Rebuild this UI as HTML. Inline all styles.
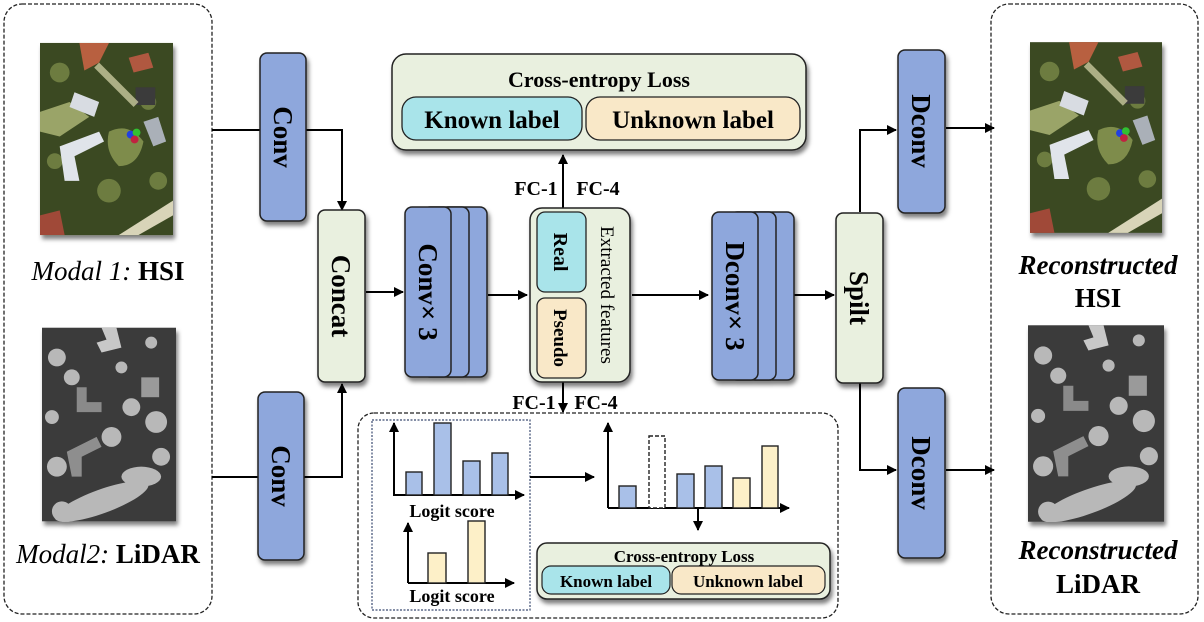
<!DOCTYPE html>
<html><head><meta charset="utf-8"><style>
html,body{margin:0;padding:0;background:#fff;}
svg{display:block;font-family:"Liberation Serif",serif;font-weight:bold;}
</style></head><body>
<svg width="1204" height="622" viewBox="0 0 1204 622" xmlns="http://www.w3.org/2000/svg">
<defs>
<marker id="ah" markerWidth="10" markerHeight="10" refX="9" refY="5" orient="auto" markerUnits="userSpaceOnUse">
<path d="M0,0 L10,5 L0,10 z" fill="#000"/></marker>
<filter id="sh" x="-20%" y="-20%" width="140%" height="140%"><feDropShadow dx="2" dy="4" stdDeviation="2" flood-color="#000" flood-opacity="0.5"/></filter>
<symbol id="hsi" viewBox="0 0 135 195">
<rect width="135" height="195" fill="#3a4a22"/>
<g fill="#7a8848" opacity="0.8"><circle cx="20" cy="30" r="10"/><circle cx="110" cy="60" r="8"/><circle cx="70" cy="150" r="12"/><circle cx="15" cy="120" r="8"/><circle cx="120" cy="140" r="9"/><circle cx="55" cy="10" r="6"/></g>
<path d="M40 0 L70 0 L60 20 L45 28 Z" fill="#b8603f"/>
<path d="M90 15 L110 10 L115 25 L95 30Z" fill="#b05840"/>
<path d="M0 70 L30 60 L50 75 L20 95 L0 90Z" fill="#9aa468"/>
<path d="M35 50 L60 60 L55 75 L30 65Z" fill="#d8dce2"/>
<path d="M20 105 L60 90 L65 100 L35 115 L40 140 L25 140Z" fill="#e0e4ea"/>
<rect x="97" y="45" width="20" height="18" fill="#3a3a3a"/>
<path d="M105 80 L120 75 L128 100 L115 105Z" fill="#aab0b8"/>
<path d="M70 90 Q90 80 105 100 Q100 125 80 125 Q65 110 70 90Z" fill="#7e8c4c"/>
<circle cx="92" cy="93" r="4" fill="#2040e0"/><circle cx="98" cy="91" r="4" fill="#30c030"/><circle cx="96" cy="98" r="4" fill="#c02040"/>
<path d="M80 195 L135 160 L135 175 L100 195Z" fill="#d8d4b8"/>
<path d="M0 175 L20 170 L25 195 L0 195Z" fill="#a04a38"/>
<path d="M60 20 L100 60 L95 65 L55 25Z" fill="#c9c89f" opacity="0.8"/>
</symbol>
<symbol id="lid" viewBox="0 0 135 195">
<rect width="135" height="195" fill="#3a3a3a"/>
<path d="M60 0 L75 0 L80 20 L60 25 L55 15 L65 12Z" fill="#c8c8c8"/>
<path d="M35 60 L45 60 L45 75 L60 75 L60 85 L35 85Z" fill="#8a8a8a"/>
<rect x="100" y="50" width="18" height="20" fill="#9a9a9a"/>
<path d="M25 125 L55 110 L60 120 L40 130 L40 150 L30 150Z" fill="#8e8e8e"/>
<g fill="#b8b8b8">
<circle cx="15" cy="30" r="9"/><circle cx="30" cy="50" r="8"/><circle cx="10" cy="90" r="7"/><circle cx="80" cy="40" r="6"/><circle cx="90" cy="80" r="9"/><circle cx="115" cy="95" r="11"/><circle cx="70" cy="110" r="10"/><circle cx="15" cy="140" r="10"/><circle cx="120" cy="130" r="9"/>
<ellipse cx="60" cy="175" rx="50" ry="12" transform="rotate(-20 60 175)"/><ellipse cx="100" cy="150" rx="20" ry="10"/><circle cx="20" cy="185" r="10"/><circle cx="110" cy="15" r="6"/>
</g>
</symbol>
</defs>

<rect x="4" y="4" width="208" height="610" rx="18" fill="#fff" stroke="#222" stroke-width="1.3" stroke-dasharray="4,2"/>
<use href="#hsi" x="40" y="42" width="133" height="194" filter="url(#sh)"/>
<text x="108" y="280" font-size="27" text-anchor="middle"><tspan font-style="italic" font-weight="normal">Modal 1:</tspan> HSI</text>
<use href="#lid" x="42" y="327" width="134" height="195" filter="url(#sh)"/>
<text x="108" y="563" font-size="27" text-anchor="middle"><tspan font-style="italic" font-weight="normal">Modal2:</tspan> LiDAR</text>

<rect x="991" y="4" width="207" height="610" rx="18" fill="#fff" stroke="#222" stroke-width="1.3" stroke-dasharray="4,2"/>
<use href="#hsi" x="1030" y="40" width="132" height="195" filter="url(#sh)"/>
<text x="1098" y="274" font-size="27" text-anchor="middle" font-style="italic">Reconstructed</text>
<text x="1098" y="307" font-size="27" text-anchor="middle">HSI</text>
<use href="#lid" x="1028" y="325" width="136" height="197" filter="url(#sh)"/>
<text x="1098" y="559" font-size="27" text-anchor="middle" font-style="italic">Reconstructed</text>
<text x="1098" y="593" font-size="27" text-anchor="middle">LiDAR</text>

<g stroke="#000" stroke-width="2" fill="none">
<polyline points="212,130 342,130 342,210" marker-end="url(#ah)"/>
<polyline points="212,477 342,477 342,384" marker-end="url(#ah)"/>
<line x1="366" y1="292" x2="403" y2="292" marker-end="url(#ah)"/>
<line x1="488" y1="295" x2="527" y2="295" marker-end="url(#ah)"/>
<line x1="632" y1="295" x2="708" y2="295" marker-end="url(#ah)"/>
<line x1="794" y1="295" x2="834" y2="295" marker-end="url(#ah)"/>
<polyline points="860,212 860,130 896,130" marker-end="url(#ah)"/>
<polyline points="860,382 860,470 896,470" marker-end="url(#ah)"/>
<line x1="946" y1="128" x2="994" y2="128" marker-end="url(#ah)"/>
<line x1="946" y1="470" x2="994" y2="470" marker-end="url(#ah)"/>
<line x1="563" y1="212" x2="563" y2="155" marker-end="url(#ah)"/>
<line x1="563" y1="378" x2="563" y2="412" marker-end="url(#ah)"/>
</g>

<g stroke="#222" stroke-width="1.5" filter="url(#sh)">
<rect x="260" y="53" width="46" height="168" rx="7" fill="#8ea7dc"/>
<rect x="258" y="392" width="46" height="168" rx="7" fill="#8ea7dc"/>
<rect x="318" y="210" width="47" height="172" rx="7" fill="#e9f0df"/>
<rect x="441" y="207" width="46" height="170" rx="7" fill="#8ea7dc"/>
<rect x="423" y="207" width="46" height="170" rx="7" fill="#8ea7dc"/>
<rect x="405" y="207" width="46" height="170" rx="7" fill="#8ea7dc"/>
<rect x="530" y="208" width="100" height="174" rx="12" fill="#e9f0df"/>
<rect x="748" y="212" width="46" height="168" rx="7" fill="#8ea7dc"/>
<rect x="730" y="212" width="46" height="168" rx="7" fill="#8ea7dc"/>
<rect x="712" y="212" width="46" height="168" rx="7" fill="#8ea7dc"/>
<rect x="836" y="213" width="47" height="170" rx="7" fill="#e9f0df"/>
<rect x="898" y="50" width="47" height="163" rx="7" fill="#8ea7dc"/>
<rect x="898" y="388" width="47" height="170" rx="7" fill="#8ea7dc"/>
<rect x="392" y="54" width="414" height="96" rx="14" fill="#e9f0df"/>
</g>
<rect x="537" y="212" width="49" height="80" rx="8" fill="#a9e4ea" stroke="#222" stroke-width="1.3"/>
<rect x="537" y="298" width="49" height="80" rx="8" fill="#f9e8c8" stroke="#222" stroke-width="1.3"/>
<rect x="402" y="97" width="180" height="43" rx="14" fill="#a9e4ea" stroke="#222" stroke-width="1.3"/>
<rect x="586" y="97" width="214" height="43" rx="14" fill="#f9e8c8" stroke="#222" stroke-width="1.3"/>
<text x="599" y="87" font-size="22" text-anchor="middle">Cross-entropy Loss</text>
<text x="492" y="128" font-size="25" text-anchor="middle">Known label</text>
<text x="693" y="128" font-size="25" text-anchor="middle">Unknown label</text>

<g font-size="27" text-anchor="middle">
<text transform="translate(283,137) rotate(90)" dy="9">Conv</text>
<text transform="translate(281,476) rotate(90)" dy="9">Conv</text>
<text transform="translate(341,296) rotate(90)" dy="9">Concat</text>
<text transform="translate(428,292) rotate(90)" dy="9">Conv× 3</text>
<text transform="translate(735,296) rotate(90)" dy="9">Dconv× 3</text>
<text transform="translate(859,298) rotate(90)" dy="9">Spilt</text>
<text transform="translate(921,131) rotate(90)" dy="9">Dconv</text>
<text transform="translate(921,473) rotate(90)" dy="9">Dconv</text>
</g>
<text transform="translate(561,252) rotate(90)" dy="7" font-size="20" text-anchor="middle">Real</text>
<text transform="translate(561,338) rotate(90)" dy="7" font-size="19" text-anchor="middle">Pseudo</text>
<text transform="translate(608,295) rotate(90)" dy="7" font-size="19" font-weight="normal" text-anchor="middle">Extracted features</text>
<text x="536" y="195" font-size="20" text-anchor="middle">FC-1</text>
<text x="598" y="195" font-size="20" text-anchor="middle">FC-4</text>
<text x="534" y="409" font-size="20" text-anchor="middle">FC-1</text>
<text x="596" y="409" font-size="20" text-anchor="middle">FC-4</text>

<rect x="358" y="413" width="480" height="205" rx="16" fill="#fff" stroke="#222" stroke-width="1.3" stroke-dasharray="4,2"/>
<rect x="372" y="420" width="158" height="190" fill="none" stroke="#3a4a70" stroke-width="1.2" stroke-dasharray="2,1.5"/>
<g stroke="#000" stroke-width="2" fill="none">
<polyline points="394,427 394,495 524,495" marker-end="url(#ah)"/>
<line x1="394" y1="495" x2="394" y2="423" marker-end="url(#ah)"/>
<polyline points="408,583 514,583" marker-end="url(#ah)"/>
<line x1="408" y1="583" x2="408" y2="523" marker-end="url(#ah)"/>
<line x1="530" y1="477" x2="594" y2="477" marker-end="url(#ah)"/>
<polyline points="608,508 789,508" marker-end="url(#ah)"/>
<line x1="608" y1="508" x2="608" y2="423" marker-end="url(#ah)"/>
<line x1="698" y1="508" x2="698" y2="530" marker-end="url(#ah)"/>
</g>
<g stroke="#222" stroke-width="1.4">
<rect x="406" y="472" width="16" height="23" fill="#a9c0e8"/>
<rect x="434" y="423" width="17" height="72" fill="#a9c0e8"/>
<rect x="463" y="461" width="17" height="34" fill="#a9c0e8"/>
<rect x="492" y="453" width="16" height="42" fill="#a9c0e8"/>
<rect x="428" y="553" width="18" height="30" fill="#fdf0c8"/>
<rect x="468" y="521" width="17" height="62" fill="#fdf0c8"/>
<rect x="619" y="486" width="17" height="22" fill="#a9c0e8"/>
<rect x="649" y="436" width="16" height="72" fill="#fff" stroke-dasharray="4,2"/>
<rect x="677" y="474" width="17" height="34" fill="#a9c0e8"/>
<rect x="705" y="466" width="17" height="42" fill="#a9c0e8"/>
<rect x="733" y="478" width="17" height="30" fill="#fdf0c8"/>
<rect x="762" y="446" width="16" height="62" fill="#fdf0c8"/>
</g>
<text x="452" y="517" font-size="18" text-anchor="middle">Logit score</text>
<text x="452" y="602" font-size="18" text-anchor="middle">Logit score</text>
<rect x="537" y="543" width="293" height="56" rx="10" fill="#e9f0df" stroke="#222" stroke-width="1.5" filter="url(#sh)"/>
<rect x="542" y="566" width="128" height="28" rx="9" fill="#a9e4ea" stroke="#222" stroke-width="1.2"/>
<rect x="672" y="566" width="153" height="28" rx="9" fill="#f9e8c8" stroke="#222" stroke-width="1.2"/>
<text x="684" y="562" font-size="17" text-anchor="middle">Cross-entropy Loss</text>
<text x="606" y="587" font-size="17" text-anchor="middle">Known label</text>
<text x="748" y="587" font-size="17" text-anchor="middle">Unknown label</text>
</svg>
</body></html>
